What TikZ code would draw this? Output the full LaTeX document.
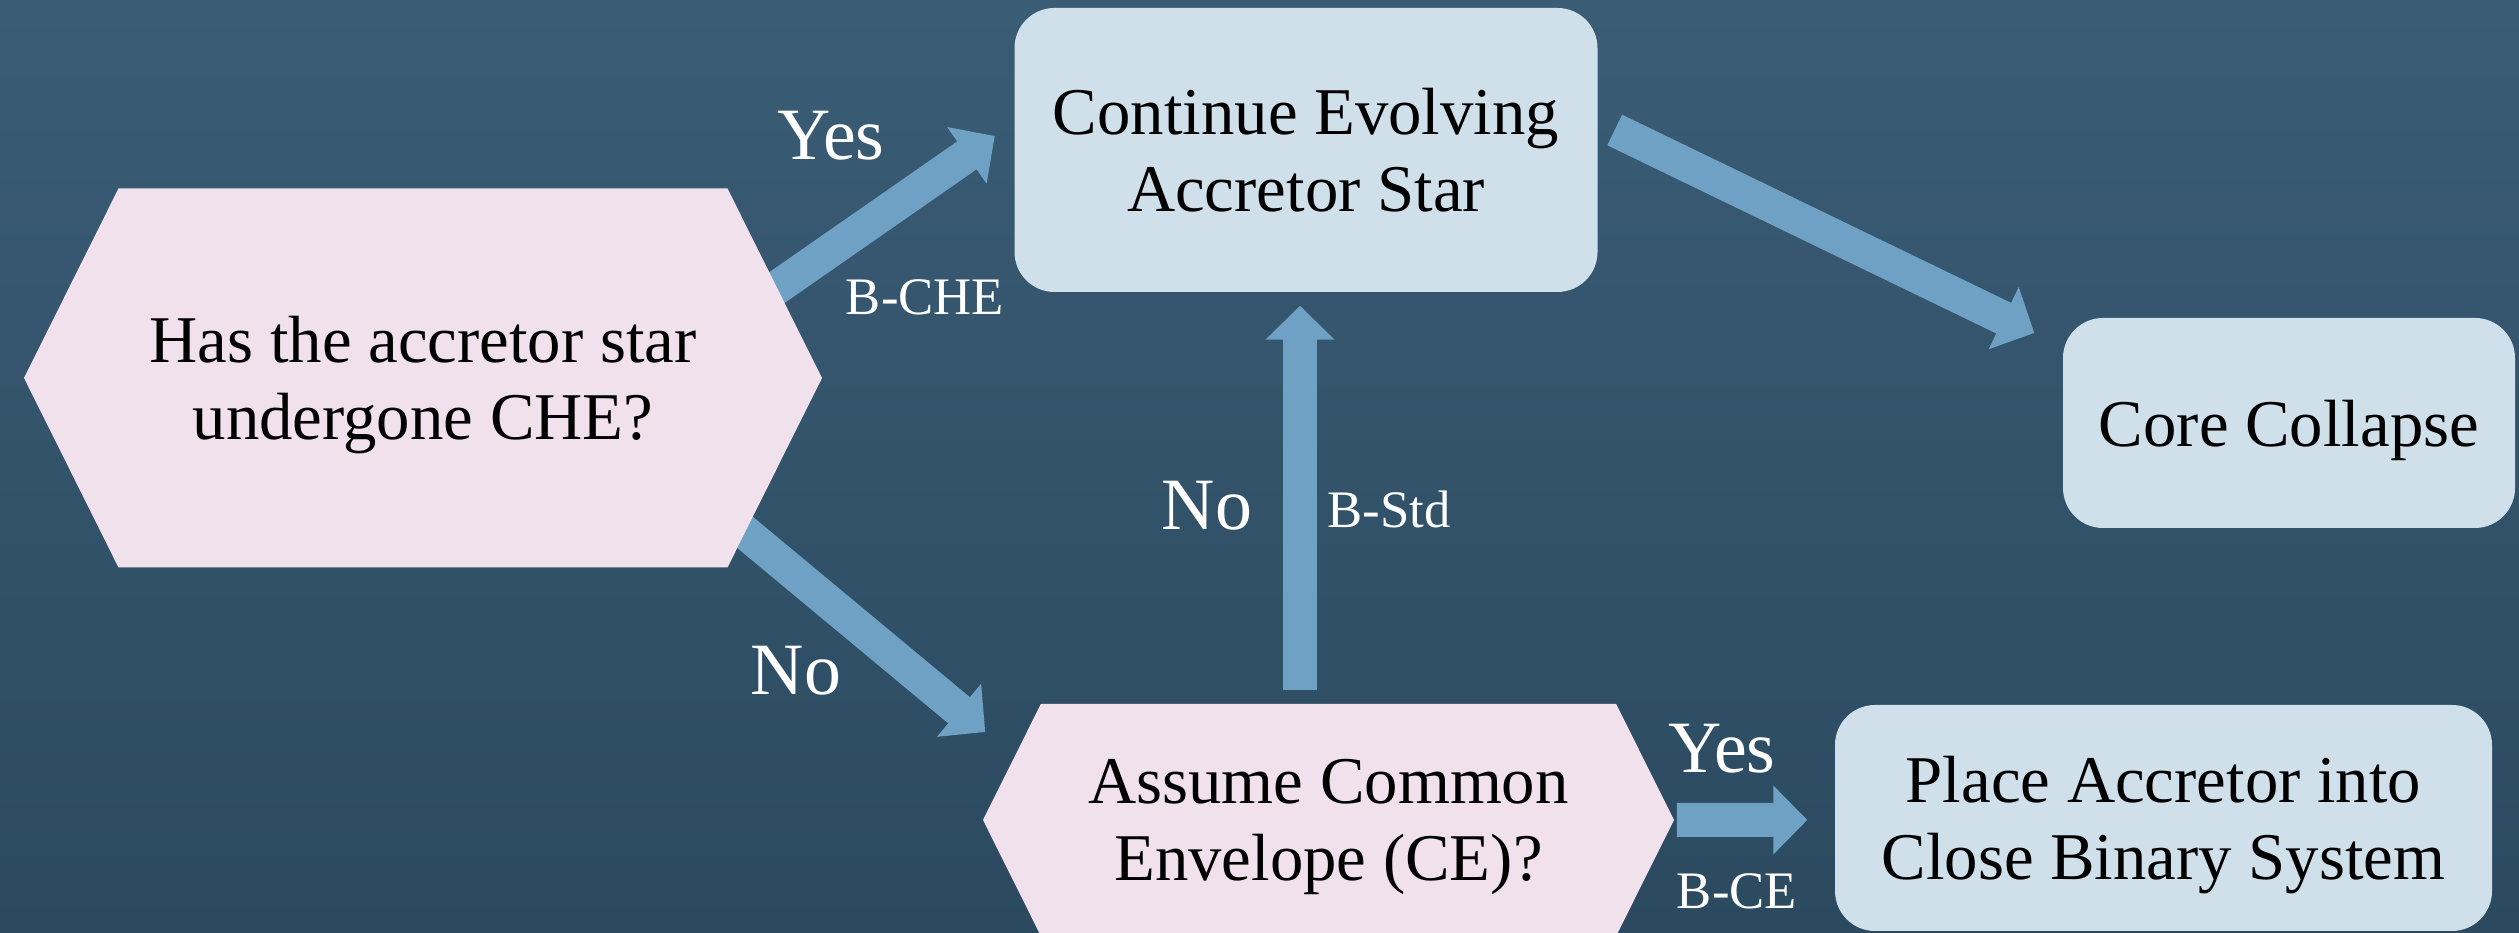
\documentclass[tikz,border=0pt]{standalone}
\usepackage{fontspec}
\setmainfont{Liberation Serif}
\usetikzlibrary{calc, arrows.meta, shapes.symbols}

\definecolor{slatetop}{HTML}{3A5C75}
\definecolor{slatebot}{HTML}{2B4A60}
\definecolor{flowblue}{HTML}{6EA1C4}
\definecolor{boxblue}{HTML}{CFE0EA}
\definecolor{hexpink}{HTML}{F0E1EC}

\newcommand{\boxfont}{\fontsize{19}{22}\selectfont}
\newcommand{\answerfont}{\fontsize{21}{24}\selectfont}
\newcommand{\branchfont}{\fontsize{15}{18}\selectfont}

\pgfdeclarelayer{back}
\pgfdeclarelayer{flows}
\pgfsetlayers{back,flows,main}

\begin{document}
\begin{tikzpicture}[
  decision/.style={signal, signal to=east and west, signal pointer angle=127,
    fill=hexpink, inner sep=0pt, text depth=0pt, align=center, font=\boxfont},
  outcome/.style={rectangle, rounded corners=0.4cm, fill=boxblue,
    inner sep=0pt, text depth=0pt, align=center, font=\boxfont},
  flow/.style={line width=0.34cm, flowblue,
    -{Triangle[width=0.67cm, length=0.34cm]}},
  answer/.style={text=white, font=\answerfont, anchor=base, inner sep=0pt},
  branch/.style={text=white, font=\branchfont, anchor=base, inner sep=0pt}
  ]
  \useasboundingbox (0,0) rectangle (25.19,9.33);
  \begin{pgfonlayer}{back}
    \shade[top color=slatetop, bottom color=slatebot] (0,0) rectangle (25.19,9.33);
  \end{pgfonlayer}

  % boxes
  \node[decision, minimum width=7.98cm, minimum height=3.79cm] (che) at (4.23,5.55)
    {Has the accretor star\\undergone CHE?};
  \node[outcome, minimum width=5.83cm, minimum height=2.84cm] (evolve) at (13.06,7.83)
    {Continue Evolving\\Accretor Star};
  \node[outcome, minimum width=4.52cm, minimum height=2.10cm] (cc) at (22.89,5.10)
    {Core Collapse};
  \node[decision, minimum width=6.91cm, minimum height=2.32cm] (ce) at (13.285,1.13)
    {Assume Common\\Envelope (CE)?};
  \node[outcome, minimum width=6.57cm, minimum height=2.26cm] (close) at (21.635,1.15)
    {Place Accretor into\\Close Binary System};

  % arrows
  \begin{pgfonlayer}{flows}
    \draw[flow, shorten <=-0.3cm] ($(che.east)+(-0.45,0.91)$) -- ($(evolve.west)+(-0.19,0.14)$);
    \draw[flow, shorten <=-0.3cm] ($(che.east)+(-0.77,-1.55)$) -- ($(ce.west)+(0.03,0.88)$);
    \draw[flow] ($(ce.north)+(-0.285,0.13)$) -- ($(evolve.south)+(-0.06,-0.13)$);
    \draw[flow] ($(evolve.east)+(0.165,0.20)$) -- ($(cc.west)+(-0.28,0.90)$);
    \draw[flow] ($(ce.east)+(0.02,0)$) -- ($(close.west)+(-0.27,-0.02)$);
  \end{pgfonlayer}

  % labels
  \node[answer] (yesche) at (8.31,7.73) {Yes};
  \node[branch] (bche) at (9.25,6.18) {B-CHE};
  \node[answer] (noche) at (7.96,2.38) {No};
  \node[answer] (noce) at (12.07,4.03) {No};
  \node[branch] (bstd) at (13.89,4.05) {B-Std};
  \node[answer] (yesce) at (17.22,1.60) {Yes};
  \node[branch] (bce) at (17.37,0.24) {B-CE};
\end{tikzpicture}
\end{document}
